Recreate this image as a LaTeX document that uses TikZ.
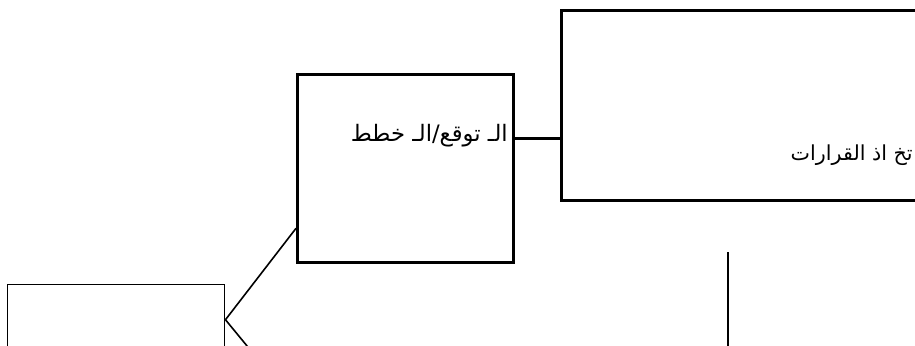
\documentclass[tikz,border=0pt]{standalone}
\usepackage{fontspec}
\newfontfamily\arabicfont[Script=Arabic]{DejaVu Sans}
\TeXXeTstate=1
\begin{document}
\begin{tikzpicture}[x=0.75pt,y=-0.75pt,
  thickbox/.style={draw, line width=2pt, inner sep=0pt, anchor=north west},
  thinbox/.style={draw, line width=1.1pt, inner sep=0pt, anchor=north west},
  link/.style={line width=1.2pt},
  boldlink/.style={line width=2pt},
  label/.style={inner sep=0pt}]
\useasboundingbox (0,0) rectangle (915,346);
\clip (0,0) rectangle (915,346);
\fill[white] (0,0) rectangle (915,346);

% boxes
\node[thickbox, minimum width=216*0.75pt, minimum height=188*0.75pt] (plan) at (296,73) {};
\node[thickbox, minimum width=400*0.75pt, minimum height=190*0.75pt] (decide) at (560,9) {};
\node[thinbox, minimum width=217*0.75pt, minimum height=70*0.75pt] (base) at (7,284) {};

% labels
\node[label, anchor=east, font=\arabicfont\fontsize{17}{20}\selectfont] (plantext) at (508,136) {\beginR الـ توقع/الـ خطط\endR};
\node[label, anchor=east, font=\arabicfont\fontsize{15.5}{18}\selectfont] (decidetext) at (913,155) {\beginR تخ اذ القرارات\endR};

% connectors
\coordinate (planjoin) at ([yshift=22.5pt]plan.east);
\draw[boldlink] (planjoin) -- (planjoin -| decide.west);
\coordinate (planfoot) at ([yshift=-45pt]plan.west);
\draw[link] (base.east) -- (planfoot);
\coordinate (lowend) at (252,352);
\draw[link] (base.east) -- (lowend);
\coordinate (stemtop) at (728,252);
\coordinate (stembot) at (728,352);
\draw[boldlink] (stemtop) -- (stembot);
\end{tikzpicture}
\end{document}
